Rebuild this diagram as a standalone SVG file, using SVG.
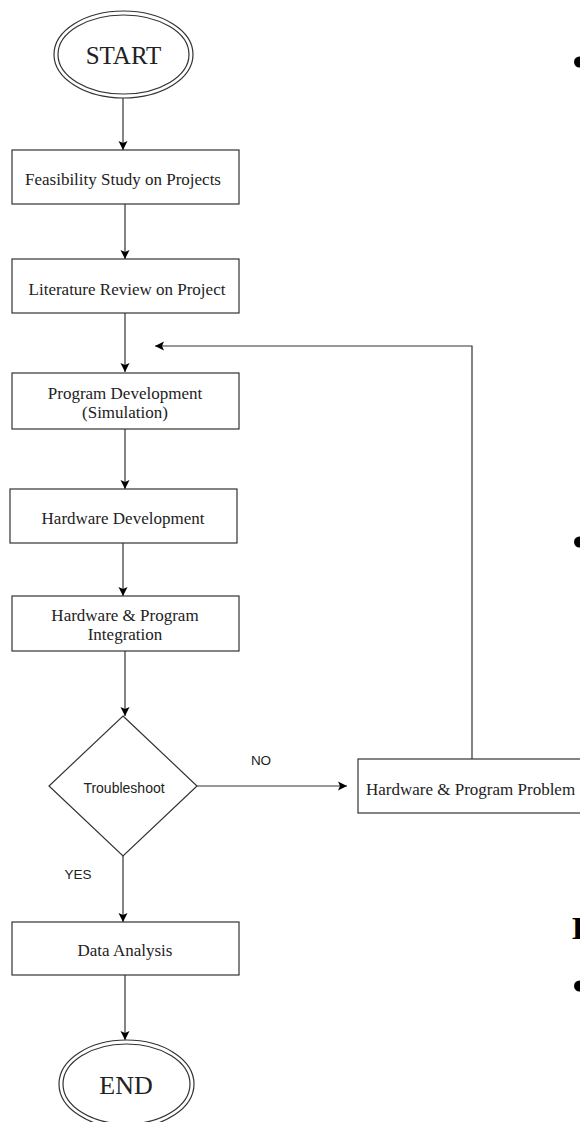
<svg xmlns="http://www.w3.org/2000/svg" width="580" height="1122" viewBox="0 0 580 1122">
<style>
.box{fill:#fff;stroke:#333;stroke-width:1.2}
.ell{fill:none;stroke:#333;stroke-width:1.2}
.t{font-family:"Liberation Serif","Times New Roman",serif;font-size:17px;fill:#222;text-anchor:middle}
.big{font-size:25px}
.s{font-family:"Liberation Sans",Arial,sans-serif;font-size:13.5px;fill:#222;text-anchor:middle}
.c{fill:none;stroke:#333;stroke-width:1.2}
</style>
<defs>
<marker id="ah" markerWidth="10" markerHeight="10" refX="9" refY="5" orient="auto" markerUnits="userSpaceOnUse">
<path d="M0,0.5 L9,5 L0,9.5 L2,5 z" fill="#000"/>
</marker>
</defs>
<rect width="580" height="1122" fill="#fff"/>
<g id="connectors">
<line class="c" x1="123" y1="98" x2="123" y2="150" marker-end="url(#ah)"/>
<line class="c" x1="125" y1="204" x2="125" y2="259" marker-end="url(#ah)"/>
<line class="c" x1="125" y1="313" x2="125" y2="372" marker-end="url(#ah)"/>
<line class="c" x1="125" y1="429" x2="125" y2="489" marker-end="url(#ah)"/>
<line class="c" x1="123" y1="543" x2="123" y2="596" marker-end="url(#ah)"/>
<line class="c" x1="125" y1="651" x2="125" y2="716" marker-end="url(#ah)"/>
<line class="c" x1="197" y1="786" x2="347" y2="786" marker-end="url(#ah)"/>
<polyline class="c" points="472,759 472,346 155,346" marker-end="url(#ah)"/>
<line class="c" x1="123" y1="856" x2="123" y2="922" marker-end="url(#ah)"/>
<line class="c" x1="125" y1="975" x2="125" y2="1040" marker-end="url(#ah)"/>
<text class="s" x="261" y="765">NO</text>
<text class="s" x="78" y="879">YES</text>
</g>
<g id="start">
<ellipse class="ell" cx="123.5" cy="54.5" rx="69.5" ry="43.5"/>
<ellipse class="ell" cx="123.5" cy="54.5" rx="65.5" ry="39.5"/>
<text class="t big" x="123.5" y="64">START</text>
</g>
<g id="feasibility">
<rect class="box" x="12" y="150" width="227" height="54"/>
<text class="t" x="123" y="185">Feasibility Study on Projects</text>
</g>
<g id="literature">
<rect class="box" x="12" y="259" width="227" height="54"/>
<text class="t" x="127" y="295">Literature Review on Project</text>
</g>
<g id="program">
<rect class="box" x="12" y="373" width="227" height="56"/>
<text class="t" x="125" y="399">Program Development</text>
<text class="t" x="125" y="418">(Simulation)</text>
</g>
<g id="hardware">
<rect class="box" x="10" y="489" width="227" height="54"/>
<text class="t" x="123" y="524">Hardware Development</text>
</g>
<g id="integration">
<rect class="box" x="12" y="596" width="227" height="55"/>
<text class="t" x="125" y="621">Hardware &amp; Program</text>
<text class="t" x="125" y="640">Integration</text>
</g>
<g id="troubleshoot">
<polygon class="box" points="123,716 197,786 123,856 49,786"/>
<text class="s" x="124" y="793" style="font-size:14px">Troubleshoot</text>
</g>
<g id="problem">
<rect class="box" x="358" y="759" width="240" height="54"/>
<text class="t" x="366" y="795" style="text-anchor:start">Hardware &amp; Program Problem</text>
</g>
<g id="data">
<rect class="box" x="12" y="922" width="227" height="53"/>
<text class="t" x="125" y="956">Data Analysis</text>
</g>
<g id="end">
<ellipse class="ell" cx="126.5" cy="1084" rx="67.5" ry="44"/>
<ellipse class="ell" cx="126.5" cy="1084" rx="63.5" ry="40"/>
<text class="t" x="126" y="1094" style="font-size:26px">END</text>
</g>
<g id="page-margin">
<circle cx="579.5" cy="62" r="5.5" fill="#000"/>
<circle cx="579.5" cy="542" r="5.5" fill="#000"/>
<circle cx="579.5" cy="986" r="5.5" fill="#000"/>
<text x="572" y="939" font-family="Liberation Serif, serif" font-weight="bold" font-size="32" fill="#000">D</text>
</g>
</svg>
